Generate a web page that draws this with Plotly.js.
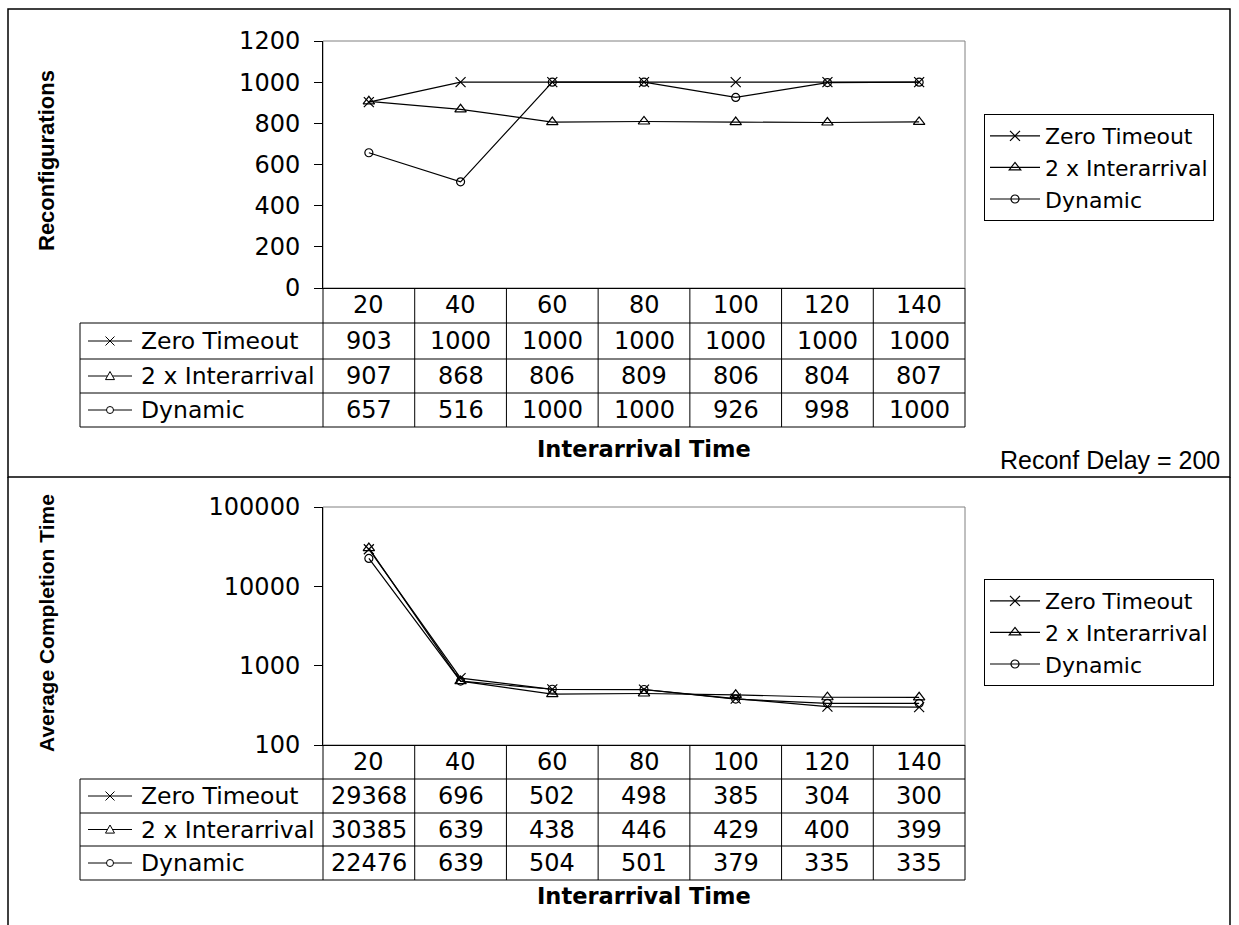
<!DOCTYPE html>
<html>
<head>
<meta charset="utf-8">
<script src="https://cdn.plot.ly/plotly-3.0.1.min.js"></script>
<style>
html, body { margin: 0; padding: 0; background: #fff; }
#chart { width: 1239px; height: 925px; }
</style>
</head>
<body>
<div id="chart"></div>
<script>
// ---------------- data ----------------
const categories = ['20', '40', '60', '80', '100', '120', '140'];
const seriesNames = ['Zero Timeout', '2 x Interarrival', 'Dynamic'];

const reconfZeroTimeout = [903, 1000, 1000, 1000, 1000, 1000, 1000];
const reconfTwoInterarrival = [907, 868, 806, 809, 806, 804, 807];
const reconfDynamic = [657, 516, 1000, 1000, 926, 998, 1000];

const timeZeroTimeout = [29368, 696, 502, 498, 385, 304, 300];
const timeTwoInterarrival = [30385, 639, 438, 446, 429, 400, 399];
const timeDynamic = [22476, 639, 504, 501, 379, 335, 335];

const reconfTicks = [0, 200, 400, 600, 800, 1000, 1200];
const timeTicks = [100, 1000, 10000, 100000];

const topTitle = 'Reconfigurations';
const bottomTitle = 'Average Completion Time';
const xTitle = 'Interarrival Time';
const noteText = 'Reconf Delay = 200';

// ---------------- layout constants (pixels) ----------------
const W = 1239, H = 925;
const px = p => p / W;
const py = p => 1 - p / H;
const plotLeft = 323, plotRight = 965;
const FONT = '"DejaVu Sans", "Liberation Sans", Arial, sans-serif';
const ARIAL = '"Liberation Sans", Arial, Helvetica, sans-serif';
const symbols = ['x-thin-open', 'triangle-up-open', 'circle-open'];
const symbolSizes = [10, 10, 8];

const panels = [
  { xa: 'x', ya: 'y', top: 41, bottom: 288, rows: [288, 323, 359, 393, 427],
    series: [reconfZeroTimeout, reconfTwoInterarrival, reconfDynamic],
    title: topTitle, titleSize: 22, titleY: 161, xTitleY: 449, legend: 'legend', legendTop: 114 },
  { xa: 'x2', ya: 'y2', top: 507, bottom: 745, rows: [745, 779, 813, 846, 880],
    series: [timeZeroTimeout, timeTwoInterarrival, timeDynamic],
    title: bottomTitle, titleSize: 21, titleY: 623, xTitleY: 896, legend: 'legend2', legendTop: 579 }
];

// ---------------- traces ----------------
const data = [];
panels.forEach(p => {
  p.series.forEach((vals, s) => {
    data.push({
      type: 'scatter', mode: 'lines+markers',
      name: seriesNames[s], x: categories, y: vals,
      xaxis: p.xa, yaxis: p.ya, legend: p.legend,
      line: { color: '#000', width: 1.2 },
      marker: { symbol: symbols[s], size: symbolSizes[s], color: '#000', line: { color: '#000', width: 1.2 } },
      cliponaxis: false
    });
  });
});

// ---------------- shapes & annotations ----------------
const shapes = [];
const annotations = [];
const lineStyle = { color: '#000', width: 1 };

function hline(x0, x1, y, style) {
  shapes.push({ type: 'line', xref: 'paper', yref: 'paper', x0: px(x0), x1: px(x1), y0: py(y), y1: py(y), line: style || lineStyle });
}
function vline(x, y0, y1, style) {
  shapes.push({ type: 'line', xref: 'paper', yref: 'paper', x0: px(x), x1: px(x), y0: py(y0), y1: py(y1), line: style || lineStyle });
}

// outer frames
const frame = { color: '#000', width: 1.5 };
shapes.push({ type: 'rect', xref: 'paper', yref: 'paper', x0: px(8), x1: px(1230), y0: py(477), y1: py(9), line: frame });
vline(8, 477, H, frame);
vline(1230, 477, H, frame);

const labelLeft = 80, keyX0 = 88, keyX1 = 132, keyMid = 110, labelTextX = 139;

function keyMarker(s, cx, cy) {
  const r = 4.5;
  const X = v => px(v), Y = v => py(v);
  if (s === 0) {
    shapes.push({ type: 'path', xref: 'paper', yref: 'paper',
      path: `M${X(cx - r)},${Y(cy - r)}L${X(cx + r)},${Y(cy + r)}M${X(cx - r)},${Y(cy + r)}L${X(cx + r)},${Y(cy - r)}`,
      line: lineStyle });
  } else if (s === 1) {
    shapes.push({ type: 'path', xref: 'paper', yref: 'paper',
      path: `M${X(cx)},${Y(cy - r)}L${X(cx + r)},${Y(cy + r * 0.8)}L${X(cx - r)},${Y(cy + r * 0.8)}Z`,
      fillcolor: '#fff', line: lineStyle });
  } else {
    shapes.push({ type: 'circle', xref: 'paper', yref: 'paper',
      x0: X(cx - 3.5), x1: X(cx + 3.5), y0: Y(cy + 3.5), y1: Y(cy - 3.5),
      fillcolor: '#fff', line: lineStyle });
  }
}

panels.forEach(p => {
  // plot area frame (grey) below axes
  shapes.push({ type: 'rect', xref: p.xa + ' domain', yref: p.ya + ' domain', x0: 0, x1: 1, y0: 0, y1: 1,
    line: { color: '#808080', width: 1 }, layer: 'below' });

  const r = p.rows;
  const tableTop = r[0], tableBottom = r[r.length - 1];
  for (let i = 1; i < r.length; i++) hline(labelLeft, plotRight, r[i]);
  vline(labelLeft, r[1], tableBottom);
  vline(plotLeft, tableTop, tableBottom);
  vline(plotRight, tableTop, tableBottom);
  // inner column separators on category boundaries
  for (let k = 1; k < categories.length; k++) {
    shapes.push({ type: 'line', xref: p.xa, yref: 'paper', x0: k - 0.5, x1: k - 0.5,
      y0: py(tableTop), y1: py(tableBottom), line: lineStyle });
  }

  const rowMid = i => (r[i] + r[i + 1]) / 2;
  const cellFont = { family: FONT, size: 24, color: '#000' };
  const labelFont = { family: FONT, size: 23.5, color: '#000' };
  categories.forEach((c, k) => {
    annotations.push({ xref: p.xa, yref: 'paper', x: k, y: py(rowMid(0)), text: c,
      showarrow: false, xanchor: 'center', yanchor: 'middle', font: cellFont });
  });
  p.series.forEach((vals, s) => {
    const cy = rowMid(s + 1);
    shapes.push({ type: 'line', xref: 'paper', yref: 'paper', x0: px(keyX0), x1: px(keyX1), y0: py(cy), y1: py(cy), line: lineStyle });
    keyMarker(s, keyMid, cy);
    annotations.push({ xref: 'paper', yref: 'paper', x: px(labelTextX), y: py(cy), text: seriesNames[s],
      showarrow: false, xanchor: 'left', yanchor: 'middle', font: labelFont });
    vals.forEach((v, k) => {
      annotations.push({ xref: p.xa, yref: 'paper', x: k, y: py(cy), text: String(v),
        showarrow: false, xanchor: 'center', yanchor: 'middle', font: cellFont });
    });
  });

  annotations.push({ xref: p.xa + ' domain', yref: 'paper', x: 0.5, y: py(p.xTitleY), text: xTitle,
    showarrow: false, xanchor: 'center', yanchor: 'middle',
    font: { family: FONT, size: 22.5, color: '#000', weight: 'bold' } });
  annotations.push({ xref: 'paper', yref: 'paper', x: px(46), y: py(p.titleY), text: p.title,
    textangle: -90, showarrow: false, xanchor: 'center', yanchor: 'middle',
    font: { family: ARIAL, size: p.titleSize, color: '#000', weight: 'bold' } });
});

annotations.push({ xref: 'paper', yref: 'paper', x: px(1110), y: py(460), text: noteText,
  showarrow: false, xanchor: 'center', yanchor: 'middle',
  font: { family: ARIAL, size: 25, color: '#000' } });

// ---------------- axes ----------------
const axisBase = { showgrid: false, zeroline: false, showline: true, linecolor: '#000', linewidth: 1, fixedrange: true };
const tickFont = { family: FONT, size: 24, color: '#000' };

const legendBase = {
  x: px(984), xanchor: 'left', yanchor: 'top',
  bgcolor: '#fff', bordercolor: '#000', borderwidth: 1,
  font: { family: FONT, size: 22, color: '#000' },
  itemwidth: 50, traceorder: 'normal'
};

const layout = {
  width: W, height: H,
  margin: { l: 0, r: 0, t: 0, b: 0 },
  paper_bgcolor: '#fff', plot_bgcolor: '#fff',
  showlegend: true,
  legend: Object.assign({}, legendBase, { y: py(panels[0].legendTop) }),
  legend2: Object.assign({}, legendBase, { y: py(panels[1].legendTop) }),
  xaxis: Object.assign({}, axisBase, { type: 'category', domain: [px(plotLeft), px(plotRight)], anchor: 'y',
    range: [-0.5, categories.length - 0.5], showticklabels: false, ticks: '' }),
  yaxis: Object.assign({}, axisBase, { domain: [py(panels[0].bottom), py(panels[0].top)], anchor: 'x',
    range: [reconfTicks[0], reconfTicks[reconfTicks.length - 1]], tickmode: 'array', tickvals: reconfTicks,
    ticktext: reconfTicks.map(String), ticks: 'outside', ticklen: 8, tickcolor: '#000', tickwidth: 1,
    tickfont: tickFont, ticklabelstandoff: 9 }),
  xaxis2: Object.assign({}, axisBase, { type: 'category', domain: [px(plotLeft), px(plotRight)], anchor: 'y2',
    range: [-0.5, categories.length - 0.5], showticklabels: false, ticks: '' }),
  yaxis2: Object.assign({}, axisBase, { type: 'log', domain: [py(panels[1].bottom), py(panels[1].top)], anchor: 'x2',
    range: [Math.log10(timeTicks[0]), Math.log10(timeTicks[timeTicks.length - 1])],
    tickmode: 'array', tickvals: timeTicks, ticktext: timeTicks.map(String),
    ticks: 'outside', ticklen: 8, tickcolor: '#000', tickwidth: 1, tickfont: tickFont, ticklabelstandoff: 9 }),
  shapes: shapes,
  annotations: annotations
};

Plotly.newPlot('chart', data, layout, { displayModeBar: false, responsive: false });
</script>
</body>
</html>
